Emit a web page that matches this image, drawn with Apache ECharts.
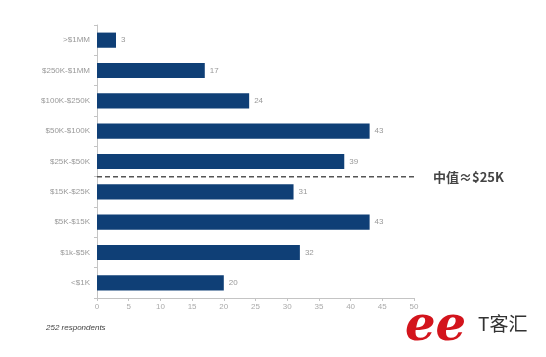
<!DOCTYPE html>
<html><head><meta charset="utf-8">
<script src="https://cdn.jsdelivr.net/npm/echarts@6/dist/echarts.min.js"></script>
<style>html,body{margin:0;padding:0;background:#fff}#c{width:546px;height:357px}</style>
</head><body><div id="c"></div>
<script>
const categories = [">$1MM", "$250K-$1MM", "$100K-$250K", "$50K-$100K", "$25K-$50K", "$15K-$25K", "$5K-$15K", "$1k-$5K", "<$1K"];
const values = [3, 17, 24, 43, 39, 31, 43, 32, 20];
const xTicks = [0, 5, 10, 15, 20, 25, 30, 35, 40, 45, 50];
const medianLabel = "中值≈$25K";
const medianBoundary = 5; // boundary between "$25K-$50K" and "$15K-$25K"
const medianLineX = [0, 50.6];
const footnote = "252 respondents";

const chart = echarts.init(document.getElementById('c'));
chart.setOption({
  animation: false,
  grid: {left: 97, right: 132, top: 25, bottom: 59},
  xAxis: {
    type: 'value', min: xTicks[0], max: xTicks[xTicks.length-1], interval: 5,
    axisLine: {show: true, onZero: false, lineStyle: {color: '#c4c4c4'}},
    axisTick: {show: true, length: 3, lineStyle: {color: '#c4c4c4'}},
    splitLine: {show: false},
    axisLabel: {color: '#aaa', fontSize: 8, fontFamily: 'Liberation Sans', margin: 5}
  },
  yAxis: [{
    type: 'category', data: categories, inverse: true,
    axisLine: {show: true, lineStyle: {color: '#c4c4c4'}},
    axisTick: {show: true, length: 3, lineStyle: {color: '#c4c4c4'}},
    axisLabel: {color: '#999', fontSize: 8, fontFamily: 'Liberation Sans', margin: 7}
  }, {
    type: 'value', min: 0, max: categories.length, inverse: true, show: false
  }],
  series: [{
    type: 'bar', data: values, barWidth: '50%',
    itemStyle: {color: '#0f3f76'},
    label: {show: true, position: 'right', color: '#999', fontSize: 8, fontFamily: 'Liberation Sans', distance: 5}
  }, {
    type: 'line', yAxisIndex: 1, silent: true, clip: false, showSymbol: false, symbol: 'none',
    data: medianLineX.map(x => [x, medianBoundary]),
    lineStyle: {type: [5, 3], color: '#555', width: 1.5},
    endLabel: {show: true, formatter: medianLabel, color: '#444', fontSize: 13, fontWeight: 'bold', fontFamily: 'Noto Sans CJK SC', distance: 17}
  }],
  graphic: [
    {type: 'text', left: 46, top: 324, style: {text: footnote, fill: '#444', fontSize: 8, fontStyle: 'italic', fontFamily: 'Liberation Sans'}},
    {type: 'text', left: 405, top: 304, style: {text: 'ee', fill: '#d3141c', fontSize: 48, fontStyle: 'italic', fontWeight: 'bold', fontFamily: 'DejaVu Serif'}},
    {type: 'text', left: 478, top: 314, style: {text: 'T客汇', fill: '#333', fontSize: 19, fontFamily: 'Noto Sans CJK SC'}}
  ]
});
</script></body></html>
